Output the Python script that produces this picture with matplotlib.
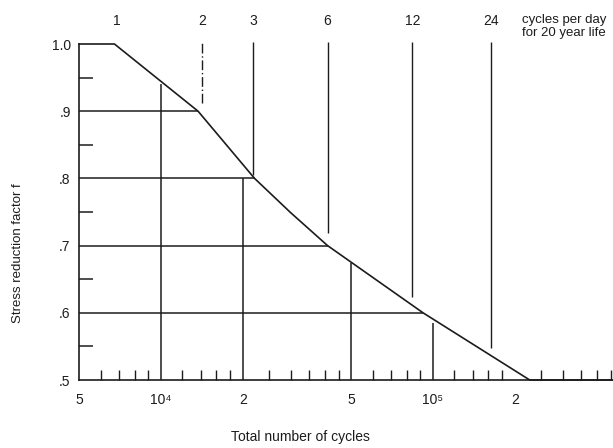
import matplotlib
matplotlib.use('Agg')
import matplotlib.pyplot as plt
from matplotlib.ticker import FixedLocator, FixedFormatter

plt.rcParams['font.family'] = ['Liberation Sans', 'DejaVu Sans']

# stress reduction curve
cycles = [5000, 6750, 13700, 22100, 30000, 41000, 92000, 227000, 500000]
factor = [1.0, 1.0, 0.9, 0.8, 0.749, 0.7, 0.6, 0.5, 0.5]

# horizontal reference lines (level, where they meet the curve)
ref_levels = [0.9, 0.8, 0.7, 0.6]
ref_ends = [13700, 22100, 41000, 92000]

# vertical grid lines at decade marks (x, top)
grid_cycles = [10000, 20000, 50000, 100000]
grid_tops = [0.94, 0.8, 0.674, 0.585]

# cycles per day for a 20 year life
per_day = ['1', '2', '3', '6', '12', '24']
per_day_cycles = [6900, 14200, 21800, 41000, 84000, 164000]
per_day_bottoms = [None, 0.912, 0.805, 0.719, 0.624, 0.548]

x_major = [5000, 10000, 20000, 50000, 100000, 200000, 500000]
x_major_labels = ['5', '10⁴', '2', '5', '10⁵', '2', '5']
x_minor = [6000, 7000, 8000, 9000, 12000, 14000, 16000, 18000,
           25000, 30000, 35000, 40000, 45000, 60000, 70000, 80000, 90000,
           120000, 140000, 160000, 180000, 250000, 300000, 350000, 400000, 450000]
y_major = [0.5, 0.6, 0.7, 0.8, 0.9, 1.0]
y_major_labels = ['.5', '.6', '.7', '.8', '.9', '1.0']
y_minor = [0.55, 0.65, 0.75, 0.85, 0.95]

ink = '#1c1c1c'

fig = plt.figure(figsize=(6.13, 4.48), dpi=100)
ax = fig.add_axes([79 / 613, 68 / 448, 544 / 613, 336 / 448])

ax.plot(cycles, factor, color=ink, lw=1.2, clip_on=False)
ax.hlines(ref_levels, cycles[0], ref_ends, color=ink, lw=1.1)
ax.vlines(grid_cycles, 0.5, grid_tops, color=ink, lw=1.1)

for lab, n, bot in zip(per_day, per_day_cycles, per_day_bottoms):
    if bot is not None:
        ls = (0, (7, 2, 1, 2)) if lab == '2' else '-'
        ax.vlines(n, bot, 1.003, color=ink, lw=1.0, linestyle=ls, clip_on=False)
    ax.text(n, 1.034, lab, ha='center', va='center', fontsize=10, color=ink, clip_on=False)

ax.text(213000, 1.036, 'cycles per day', ha='left', va='center', fontsize=9.5, color=ink)
ax.text(213000, 1.016, 'for 20 year life', ha='left', va='center', fontsize=9.5, color=ink)

ax.set_xscale('log')
ax.set_xlim(5000, 500000)
ax.set_ylim(0.5, 1.0)

ax.xaxis.set_major_locator(FixedLocator(x_major))
ax.xaxis.set_major_formatter(FixedFormatter(x_major_labels))
ax.xaxis.set_minor_locator(FixedLocator(x_minor))
ax.xaxis.set_minor_formatter(FixedFormatter([''] * len(x_minor)))
ax.yaxis.set_major_locator(FixedLocator(y_major))
ax.yaxis.set_major_formatter(FixedFormatter(y_major_labels))
ax.yaxis.set_minor_locator(FixedLocator(y_minor))

ax.tick_params(axis='x', which='major', length=0, pad=9, labelsize=10, colors=ink)
ax.tick_params(axis='x', which='minor', direction='in', length=7, width=1.0, color=ink)
ax.tick_params(axis='y', which='major', length=0, pad=6, labelsize=10, colors=ink)
ax.tick_params(axis='y', which='minor', direction='in', length=10, width=1.1, color=ink)

for side in ['top', 'right']:
    ax.spines[side].set_visible(False)
for side in ['left', 'bottom']:
    ax.spines[side].set_color(ink)
    ax.spines[side].set_linewidth(1.2)

fig.text(18 / 613, 1 - 253 / 448, 'Stress reduction factor f', rotation=90,
         ha='center', va='center', fontsize=9.5, color=ink)
fig.text(300 / 613, 1 - 437 / 448, 'Total number of cycles',
         ha='center', va='center', fontsize=10, color=ink)

fig.savefig('out.png', dpi=100)
